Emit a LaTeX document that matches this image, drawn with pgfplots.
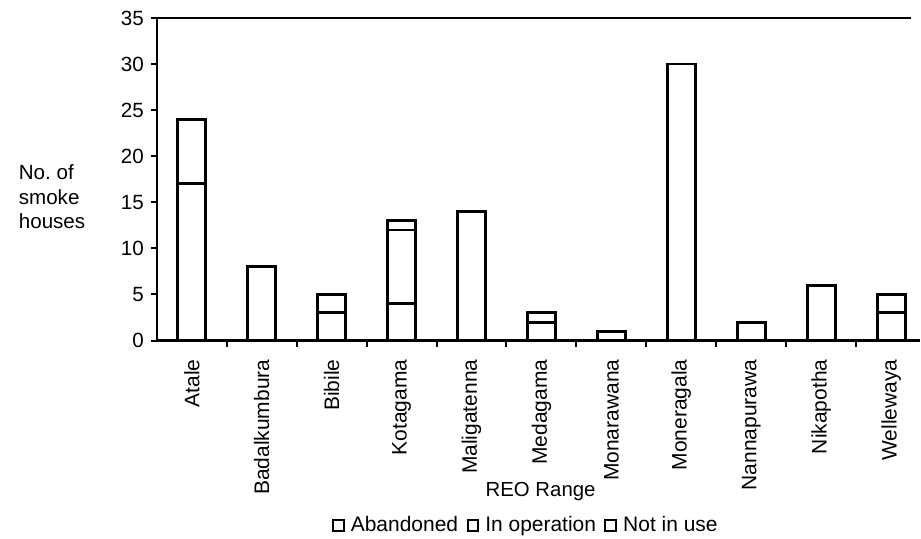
\documentclass[border=0pt]{standalone}
\usepackage{fontspec}
\setmainfont{Liberation Sans}
\usepackage{pgfplots}
\pgfplotsset{compat=1.18}
\usepackage{pgfplotstable}

\pgfplotstableread{
x A I N
0 17 7 0
1 8 0 0
2 3 2 0
3 4 8 1
4 14 0 0
5 2 1 0
6 1 0 0
7 30 0 0
8 2 0 0
9 6 0 0
10 3 2 0
}\smoke

\begin{document}
\frenchspacing
\begin{tikzpicture}
\begin{axis}[
  scale only axis, width=382pt, height=161.5pt,
  ybar stacked, bar width=14pt,
  xmin=-0.5, xmax=10.41, ymin=0, ymax=35,
  clip=false,
  axis on top=true,
  axis x line*=bottom, axis y line*=left,
  axis line style={line width=1.2pt},
  tick align=outside,
  major tick length=3pt,
  tick style={line width=1pt, black},
  ytick={0,5,...,35},
  xtick={0.5,1.5,...,9.5},
  xticklabels={},
  extra x ticks={0,1,...,10},
  extra x tick labels={Atale,Badalkumbura,Bibile,Kotagama,Maligatenna,Medagama,Monarawana,Moneragala,Nannapurawa,Nikapotha,Wellewaya},
  extra x tick style={major tick length=0pt, tick label style={yshift=-6pt, rotate=90, anchor=east, font=\fontsize{10.5}{12}\selectfont}},
  /pgf/number format/assume math mode=true,
  tick label style={font=\fontsize{10.3}{12}\selectfont},
  every axis y label/.style={at={(axis description cs:-0.19,0.446)}, anchor=west, align=left, font=\fontsize{10.3}{12.5}\selectfont},
  ylabel={No. of\\smoke\\houses},
  every axis x label/.style={at={(axis description cs:0.503,-0.467)}, anchor=center, font=\fontsize{10.2}{12}\selectfont},
  xlabel={REO Range},
  cycle list={{fill=white, draw=black}},
  every axis plot/.append style={line width=1.4pt},
  legend style={at={(axis description cs:0.485,-0.573)}, anchor=center, draw=none, fill=none,
    legend columns=3, font=\fontsize{10.5}{12}\selectfont,
    /tikz/every odd column/.append style={column sep=1pt},
    /tikz/every even column/.append style={column sep=2.2pt},
    inner sep=0pt},
  legend image code/.code={\draw[black, line width=1pt, fill=white] (0pt,-2.7pt) rectangle (5.4pt,2.7pt);},
]
\addplot table[x=x, y=A] {\smoke};
\addplot table[x=x, y=I] {\smoke};
\addplot table[x=x, y=N] {\smoke};
\legend{Abandoned, In operation, Not in use}
\draw[line width=1pt] (rel axis cs:0,1) -- (rel axis cs:0.988,1);
\coordinate (bl) at (rel axis cs:-0.2055,-0.613);
\coordinate (tr) at (rel axis cs:1.0,1.0557);
\end{axis}
\path (bl) rectangle (tr);
\end{tikzpicture}
\end{document}
